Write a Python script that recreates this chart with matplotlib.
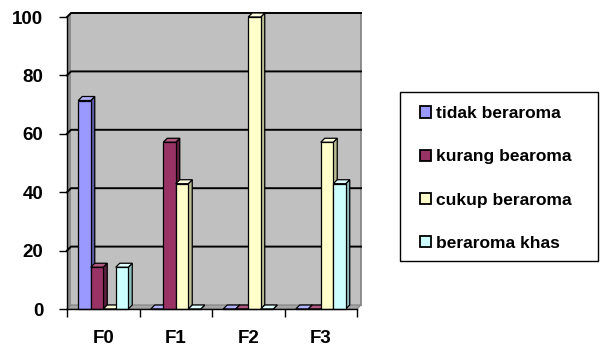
import matplotlib.pyplot as plt
import numpy as np
from matplotlib.patches import Polygon, Patch, Rectangle

# data
categories = ["F0", "F1", "F2", "F3"]
series_names = ["tidak beraroma", "kurang bearoma", "cukup beraroma", "beraroma khas"]
tidak = [71.4, 0, 0, 0]
kurang = [14.3, 57.1, 0, 0]
cukup = [0, 42.9, 100, 57.1]
khas = [14.3, 0, 0, 42.9]
yticks = [0, 20, 40, 60, 80, 100]

front_colors = ["#9999FF", "#993366", "#FFFFCC", "#CCFFFF"]
side_colors = ["#5C5CA8", "#5E1F3F", "#BDBD96", "#8FBDBD"]
top_colors = ["#B3B3FF", "#B0587F", "#FFFFE0", "#E0FFFF"]

FONT = ["Liberation Sans", "DejaVu Sans"]
plt.rcParams["font.family"] = FONT
plt.rcParams["font.weight"] = "bold"

W, H = 600, 348
fig = plt.figure(figsize=(W / 100, H / 100), dpi=100)
ax = fig.add_axes([67 / W, (H - 309) / H, 290 / W, 292 / H])
ax.set_xlim(-0.5, 3.5)
ax.set_ylim(0, 100)

# depth of the 3D effect, converted from pixels to data units
dx = 4.0 / 290 * 4.0
dy = 4.0 / 292 * 100.0

# walls and floor
wall = Polygon([(-0.5 + dx, dy), (3.5 + dx, dy), (3.5 + dx, 100 + dy), (-0.5 + dx, 100 + dy)],
               closed=True, facecolor="#C0C0C0", edgecolor="none", zorder=0, clip_on=False)
ax.add_patch(wall)
side = Polygon([(-0.5, 0), (-0.5 + dx, dy), (-0.5 + dx, 100 + dy), (-0.5, 100)],
               closed=True, facecolor="#8C8C8C", edgecolor="none", zorder=0.5, clip_on=False)
ax.add_patch(side)
floor = Polygon([(-0.5, 0), (3.5, 0), (3.5 + dx, dy), (-0.5 + dx, dy)],
                closed=True, facecolor="#A6A6A6", edgecolor="#808080", lw=0.8,
                zorder=0.5, clip_on=False)
ax.add_patch(floor)
ax.plot([3.5 + dx, 3.5 + dx], [dy, 100 + dy], color="#808080", lw=1.2, zorder=0.6, clip_on=False)

for yv in yticks[1:]:
    ax.plot([-0.5, -0.5 + dx, 3.5 + dx], [yv, yv + dy, yv + dy], color="black",
            lw=1.4, zorder=0.7, clip_on=False)

# 3D bars
bw = 12.5 / 290 * 4.0
x = np.arange(len(categories))
values = [tidak, kurang, cukup, khas]
for i, vals in enumerate(values):
    for xc, v in zip(x, vals):
        x0 = xc + (i - 2) * bw
        x1 = x0 + bw
        kw = dict(closed=True, edgecolor="black", lw=0.9, zorder=3, clip_on=False,
                  joinstyle="miter")
        ax.add_patch(Polygon([(x1, 0), (x1 + dx, dy), (x1 + dx, v + dy), (x1, v)],
                             facecolor=side_colors[i], **kw))
        ax.add_patch(Polygon([(x0, v), (x0 + dx, v + dy), (x1 + dx, v + dy), (x1, v)],
                             facecolor=top_colors[i], **kw))
        ax.add_patch(Polygon([(x0, 0), (x1, 0), (x1, v), (x0, v)],
                             facecolor=front_colors[i], **kw))

# axes
for s in ["top", "right"]:
    ax.spines[s].set_visible(False)
for s in ["left", "bottom"]:
    ax.spines[s].set_color("black")
    ax.spines[s].set_linewidth(1.0)
    ax.spines[s].set_zorder(4)
ax.set_facecolor("none")
ax.set_yticks(yticks)
ax.set_yticklabels([str(v) for v in yticks], fontsize=13.5, fontweight="bold")
ax.tick_params(axis="y", length=6, width=1, pad=11)
ax.set_xticks(np.arange(-0.5, 4.0, 1.0), minor=True)
ax.set_xticks(x)
ax.set_xticklabels(categories, fontsize=13.5, fontweight="bold")
ax.tick_params(axis="x", which="major", length=0, pad=15)
ax.tick_params(axis="x", which="minor", length=6, width=1)

# legend box
fig.patches.append(Rectangle((400 / W, 1 - 261 / H), 198 / W, 169 / H,
                             transform=fig.transFigure, facecolor="white",
                             edgecolor="black", lw=1.0, zorder=1))
handles = [Patch(facecolor=c, edgecolor="black", lw=1.3) for c in front_colors]
leg = fig.legend(handles, series_names, loc="center left",
                 bbox_to_anchor=(420 / W, 1 - 178.5 / H),
                 frameon=False, prop=dict(family=FONT, weight="bold", size=12.5),
                 handlelength=0.65, handleheight=0.65, handletextpad=0.3,
                 labelspacing=1.62, borderpad=0, borderaxespad=0)
leg.set_zorder(2)

fig.savefig("out.png", dpi=100)
